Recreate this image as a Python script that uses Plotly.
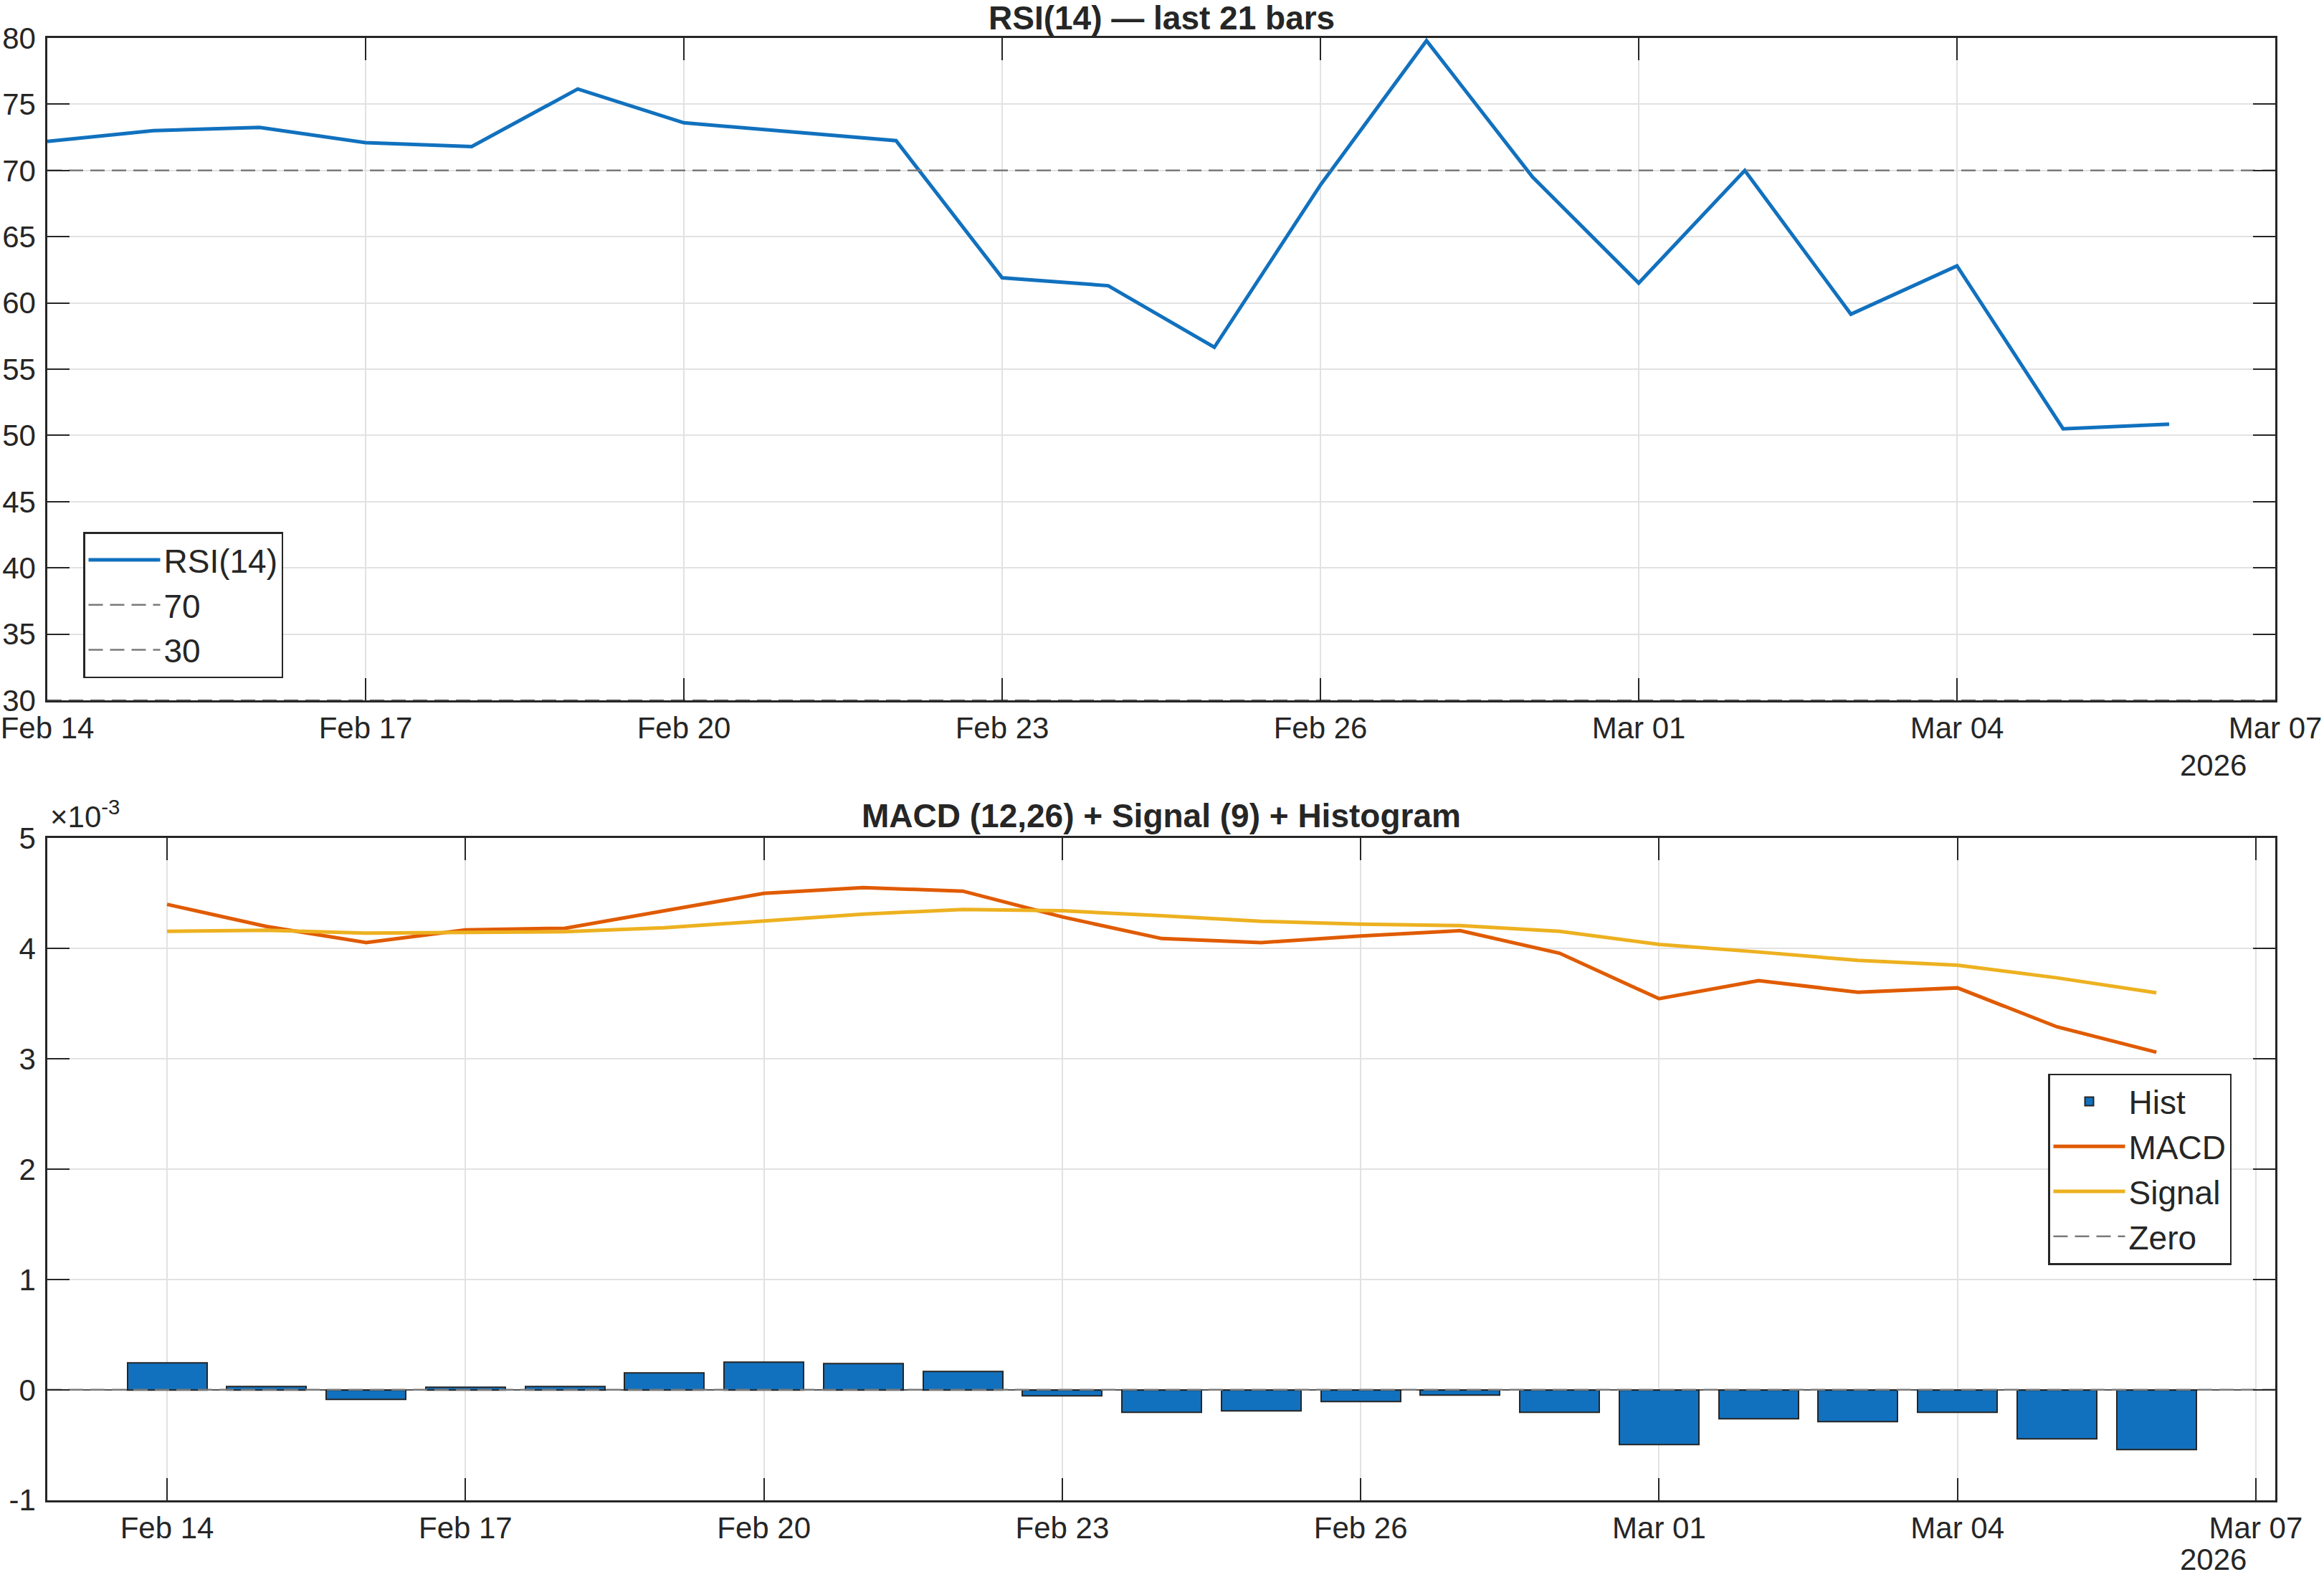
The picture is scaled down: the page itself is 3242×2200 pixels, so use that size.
import plotly.graph_objects as go

# ---------------- data ----------------
dates = ["2026-02-14", "2026-02-15", "2026-02-16", "2026-02-17", "2026-02-18",
         "2026-02-19", "2026-02-20", "2026-02-21", "2026-02-22", "2026-02-23",
         "2026-02-24", "2026-02-25", "2026-02-26", "2026-02-27", "2026-02-28",
         "2026-03-01", "2026-03-02", "2026-03-03", "2026-03-04", "2026-03-05",
         "2026-03-06"]

rsi = [72.2, 73.0, 73.25, 72.1, 71.8, 76.15, 73.6, 72.9, 72.25, 61.9,
       61.3, 56.65, 68.9, 79.8, 69.5, 61.5, 70.0, 59.15, 62.8, 50.5, 50.85]

rsi_upper = 70
rsi_lower = 30

macd = [4.40e-3, 4.20e-3, 4.054e-3, 4.169e-3, 4.184e-3, 4.34e-3, 4.50e-3,
        4.552e-3, 4.52e-3, 4.286e-3, 4.09e-3, 4.054e-3, 4.113e-3, 4.162e-3,
        3.957e-3, 3.545e-3, 3.708e-3, 3.604e-3, 3.643e-3, 3.29e-3, 3.06e-3]

signal = [4.156e-3, 4.165e-3, 4.139e-3, 4.145e-3, 4.152e-3, 4.188e-3, 4.251e-3,
          4.312e-3, 4.353e-3, 4.342e-3, 4.297e-3, 4.247e-3, 4.221e-3, 4.208e-3,
          4.156e-3, 4.037e-3, 3.968e-3, 3.892e-3, 3.848e-3, 3.734e-3, 3.599e-3]

hist = [0.245e-3, 0.032e-3, -0.09e-3, 0.022e-3, 0.03e-3, 0.151e-3, 0.248e-3,
        0.24e-3, 0.166e-3, -0.056e-3, -0.206e-3, -0.192e-3, -0.109e-3, -0.047e-3,
        -0.203e-3, -0.494e-3, -0.261e-3, -0.292e-3, -0.204e-3, -0.445e-3, -0.54e-3]

zero_level = 0

x_tick_dates = ["2026-02-14", "2026-02-17", "2026-02-20", "2026-02-23",
                "2026-02-26", "2026-03-01", "2026-03-04", "2026-03-07"]
top_x_range = ["2026-02-14 00:00", "2026-03-07 00:00"]
bot_x_range = ["2026-02-12 19:06", "2026-03-07 04:41"]

rsi_range = [30, 80]
macd_range = [-1e-3, 5e-3]
macd_tick_vals = [-1e-3, 0, 1e-3, 2e-3, 3e-3, 4e-3, 5e-3]
macd_tick_text = ["-1", "0", "1", "2", "3", "4", "5"]

# ---------------- styling ----------------
W, H = 3242, 2200
FONT = "Liberation Sans, Arial, Helvetica, sans-serif"
DARK = "#262626"
BLUE = "#1171BE"
ORANGE = "#E05B00"
YELLOW = "#EDB120"
GRAY = "#7a7a7a"

x_dom = [66 / W, 3174 / W]
top_dom = [1 - 977 / H, 1 - 53 / H]
bot_dom = [1 - 2092.7 / H, 1 - 1169.3 / H]

fig = go.Figure()

# ---- top: RSI ----
fig.add_trace(go.Scatter(x=dates, y=rsi, mode="lines", name="RSI(14)",
                         line=dict(color=BLUE, width=5),
                         xaxis="x", yaxis="y", legend="legend"))
fig.add_trace(go.Scatter(x=top_x_range, y=[rsi_upper, rsi_upper], mode="lines",
                         name=str(rsi_upper),
                         line=dict(color=GRAY, width=2.5, dash="20px,10px"),
                         xaxis="x", yaxis="y", legend="legend"))
fig.add_trace(go.Scatter(x=top_x_range, y=[rsi_lower, rsi_lower], mode="lines",
                         name=str(rsi_lower),
                         line=dict(color=GRAY, width=2.5, dash="20px,10px"),
                         xaxis="x", yaxis="y", legend="legend"))

# ---- bottom: MACD ----
fig.add_trace(go.Bar(x=dates, y=hist, name="Hist",
                     width=0.8 * 86400000,
                     marker=dict(color=BLUE, line=dict(color=DARK, width=2)),
                     xaxis="x2", yaxis="y2", legend="legend2"))
fig.add_trace(go.Scatter(x=dates, y=macd, mode="lines", name="MACD",
                         line=dict(color=ORANGE, width=5),
                         xaxis="x2", yaxis="y2", legend="legend2"))
fig.add_trace(go.Scatter(x=dates, y=signal, mode="lines", name="Signal",
                         line=dict(color=YELLOW, width=5),
                         xaxis="x2", yaxis="y2", legend="legend2"))
fig.add_trace(go.Scatter(x=bot_x_range, y=[zero_level, zero_level], mode="lines",
                         name="Zero",
                         line=dict(color=GRAY, width=2.5, dash="20px,10px"),
                         xaxis="x2", yaxis="y2", legend="legend2"))

axis_common = dict(
    showline=True, linecolor=DARK, linewidth=2.5, mirror="ticks",
    ticks="inside", ticklen=31, tickwidth=2, tickcolor=DARK,
    showgrid=True, gridcolor="#E2E2E2", gridwidth=2,
    zeroline=False, automargin=False,
    tickfont=dict(family=FONT, size=42, color=DARK),
)

legend_common = dict(
    bgcolor="white", bordercolor=DARK, borderwidth=2.5,
    font=dict(family=FONT, size=46, color=DARK),
    tracegroupgap=0, itemwidth=100,
)

fig.update_layout(
    width=W, height=H,
    margin=dict(l=0, r=0, t=0, b=0, pad=0),
    paper_bgcolor="white", plot_bgcolor="white",
    font=dict(family=FONT, color=DARK),
    showlegend=True,
    xaxis=dict(axis_common, domain=x_dom, anchor="y", type="date",
               range=top_x_range, tickvals=x_tick_dates, tickformat="%b %d",
               ticklabelstandoff=0),
    yaxis=dict(axis_common, domain=top_dom, anchor="x", range=rsi_range,
               dtick=5, tick0=30, ticklabelstandoff=5),
    xaxis2=dict(axis_common, domain=x_dom, anchor="y2", type="date",
                range=bot_x_range, tickvals=x_tick_dates, tickformat="%b %d",
                ticklabelstandoff=0),
    yaxis2=dict(axis_common, domain=bot_dom, anchor="x2", range=macd_range,
                tickvals=macd_tick_vals, ticktext=macd_tick_text,
                zeroline=True, zerolinecolor="#555555", zerolinewidth=2,
                ticklabelstandoff=5),
    legend=dict(legend_common, x=116 / W, y=1 - 946 / H,
                xanchor="left", yanchor="bottom"),
    legend2=dict(legend_common, x=3113 / W, y=1 - 1631 / H,
                 xanchor="right", yanchor="middle"),
    bargap=0,
)

annotations = [
    dict(text="<b>RSI(14) \u2014 last 21 bars</b>", x=1620 / W, y=1 - 25 / H,
         xref="paper", yref="paper", xanchor="center", yanchor="middle",
         showarrow=False, font=dict(family=FONT, size=46, color=DARK)),
    dict(text="<b>MACD (12,26) + Signal (9) + Histogram</b>", x=1620 / W,
         y=1 - 1138 / H, xref="paper", yref="paper", xanchor="center",
         yanchor="middle", showarrow=False,
         font=dict(family=FONT, size=46, color=DARK)),
    dict(text="\u00d710<sup>-3</sup>", x=68 / W, y=1 - 1136 / H,
         xref="paper", yref="paper", xanchor="left", yanchor="middle",
         showarrow=False, font=dict(family=FONT, size=42, color=DARK)),
    dict(text="2026", x=3136 / W, y=1 - 1067 / H, xref="paper", yref="paper",
         xanchor="right", yanchor="middle", showarrow=False,
         font=dict(family=FONT, size=42, color=DARK)),
    dict(text="2026", x=3136 / W, y=1 - 2175 / H, xref="paper", yref="paper",
         xanchor="right", yanchor="middle", showarrow=False,
         font=dict(family=FONT, size=42, color=DARK)),
]
fig.update_layout(annotations=annotations)

fig.write_html("out.html")
